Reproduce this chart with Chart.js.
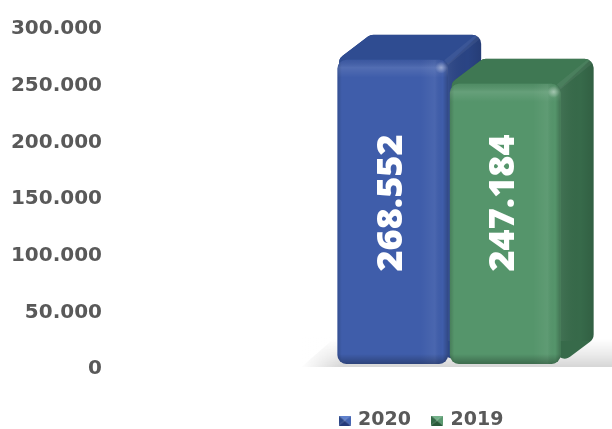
<!DOCTYPE html>
<html>
<head>
<meta charset="utf-8">
<script src="https://cdn.jsdelivr.net/npm/chart.js@4.4.1/dist/chart.umd.min.js"></script>
<style>
  html, body { margin: 0; padding: 0; background: #ffffff; }
  #wrap { width: 612px; height: 429px; }
</style>
</head>
<body>
<div id="wrap"><canvas id="chart" width="612" height="429"></canvas></div>
<script>
// ---- data ----
const categories = [''];
const seriesLabels = ['2020', '2019'];
const values2020 = [268552];
const values2019 = [247184];
const yMin = 0;
const yMax = 300000;
const yStep = 50000;

// ---- styling ----
const palette = [
  { front: '#3F5DAA', top: '#2F4C91', side: '#2A4484', icon: ['#5E80CC', '#4566B4', '#24397A', '#2C4788'] },
  { front: '#55956B', top: '#3F7853', side: '#376A4A', icon: ['#74B28A', '#5A9A70', '#2A5A3A', '#356A48'] }
];
const depth = { dx: 33, dy: -25 };
const faceRadius = 9;
const textGray = '#595959';

const fmt = v => String(v).replace(/\B(?=(\d{3})+(?!\d))/g, '.');

// small bevelled square used as legend marker
function makeIcon(c) {
  const w = 12, h = 10, cx = 6, cy = 5;
  const cv = document.createElement('canvas');
  cv.width = w; cv.height = h;
  const g = cv.getContext('2d');
  const tri = (pts, col) => {
    g.beginPath(); g.moveTo(pts[0][0], pts[0][1]);
    for (let i = 1; i < pts.length; i++) g.lineTo(pts[i][0], pts[i][1]);
    g.closePath(); g.fillStyle = col; g.fill();
  };
  tri([[0, 0], [w, 0], [cx, cy]], c[0]);
  tri([[w, 0], [w, h], [cx, cy]], c[1]);
  tri([[0, h], [w, h], [cx, cy]], c[2]);
  tri([[0, 0], [0, h], [cx, cy]], c[3]);
  return cv;
}
const icons = palette.map(p => makeIcon(p.icon));

function roundedPoly(ctx, pts, rad) {
  const n = pts.length;
  const mid = (a, b) => [(a[0] + b[0]) / 2, (a[1] + b[1]) / 2];
  const s = mid(pts[n - 1], pts[0]);
  ctx.beginPath();
  ctx.moveTo(s[0], s[1]);
  for (let i = 0; i < n; i++) {
    const p = pts[i], m = mid(p, pts[(i + 1) % n]);
    ctx.arcTo(p[0], p[1], m[0], m[1], rad);
  }
  ctx.closePath();
}

function roundRect(ctx, x, y, w, h, r) {
  ctx.beginPath();
  ctx.moveTo(x + r, y);
  ctx.arcTo(x + w, y, x + w, y + h, r);
  ctx.arcTo(x + w, y + h, x, y + h, r);
  ctx.arcTo(x, y + h, x, y, r);
  ctx.arcTo(x, y, x + w, y, r);
  ctx.closePath();
}

function barBox(el) {
  const p = el.getProps(['x', 'y', 'base', 'width'], true);
  return { l: p.x - p.width / 2, r: p.x + p.width / 2, t: Math.min(p.y, p.base), b: Math.max(p.y, p.base), cx: p.x };
}

// floor, top faces and side faces behind the bar fronts; shading and labels on top
const box3d = {
  id: 'box3d',
  afterLayout(chart) {
    const lg = chart.legend;
    const h = lg.height;
    lg.left = 232; lg.right = 612;
    lg.top = 389; lg.bottom = lg.top + h;
  },
  beforeDatasetsDraw(chart) {
    const ctx = chart.ctx;
    const metas = chart.data.datasets.map((d, i) => chart.getDatasetMeta(i));
    const first = barBox(metas[0].data[0]);

    // floor shadow
    ctx.save();
    const fb = first.b + 3, ft = first.b + depth.dy;
    ctx.beginPath();
    ctx.moveTo(first.l - 36, fb);
    ctx.lineTo(chart.width, fb);
    ctx.lineTo(chart.width, ft);
    ctx.lineTo(first.l - 4, ft);
    ctx.closePath();
    let g = ctx.createLinearGradient(0, ft, 0, fb);
    g.addColorStop(0, 'rgba(0,0,0,0)');
    g.addColorStop(0.55, 'rgba(0,0,0,0.08)');
    g.addColorStop(1, 'rgba(0,0,0,0.16)');
    ctx.fillStyle = g;
    ctx.fill();
    g = ctx.createLinearGradient(first.l - 36, 0, first.l + 4, 0);
    g.addColorStop(0, 'rgba(255,255,255,1)');
    g.addColorStop(1, 'rgba(255,255,255,0)');
    ctx.fillStyle = g;
    ctx.fillRect(first.l - 40, ft - 2, 46, fb - ft + 4);
    ctx.restore();

    metas.forEach((meta, i) => {
      const c = palette[i];
      meta.data.forEach(el => {
        const { l, r, t, b } = barBox(el);
        const dx = depth.dx, dy = depth.dy;
        const sil = [[l, t], [l + dx, t + dy], [r + dx, t + dy], [r + dx, b + dy], [r, b]];
        ctx.save();
        roundedPoly(ctx, sil, faceRadius);
        ctx.fillStyle = c.side;
        ctx.fill();
        ctx.clip();
        // side face shading
        const sg = ctx.createLinearGradient(r, 0, r + dx, 0);
        sg.addColorStop(0, 'rgba(255,255,255,0.05)');
        sg.addColorStop(0.6, 'rgba(0,0,0,0)');
        sg.addColorStop(1, 'rgba(0,0,0,0.1)');
        ctx.fillStyle = sg;
        ctx.fillRect(r - 2, t + dy - 2, dx + 4, b - t + 4);
        // top face
        ctx.beginPath();
        ctx.moveTo(l - 4, t + 3);
        ctx.lineTo(l + dx - 4, t + dy);
        ctx.lineTo(r + dx - 2, t + dy);
        ctx.lineTo(r + 1, t + 3);
        ctx.closePath();
        ctx.fillStyle = c.top;
        ctx.fill();
        // soft ridge between top and side
        ctx.strokeStyle = 'rgba(255,255,255,0.06)';
        ctx.lineWidth = 6;
        ctx.beginPath();
        ctx.moveTo(r - 2, t + 3);
        ctx.lineTo(r + dx - 3, t + dy + 2);
        ctx.stroke();
        ctx.restore();
      });
    });
  },
  afterDatasetsDraw(chart) {
    const ctx = chart.ctx;
    const area = chart.chartArea;
    chart.data.datasets.forEach((ds, i) => {
      const meta = chart.getDatasetMeta(i);
      meta.data.forEach((el, j) => {
        const { l, r, t, b, cx } = barBox(el);
        const w = r - l, h = b - t;
        ctx.save();
        roundRect(ctx, l, t, w, h, faceRadius);
        ctx.clip();
        let g = ctx.createLinearGradient(l, 0, r, 0);
        g.addColorStop(0, 'rgba(0,0,0,0.16)');
        g.addColorStop(0.04, 'rgba(0,0,0,0)');
        g.addColorStop(0.75, 'rgba(255,255,255,0)');
        g.addColorStop(0.88, 'rgba(255,255,255,0.06)');
        g.addColorStop(0.95, 'rgba(0,0,0,0)');
        g.addColorStop(1, 'rgba(0,0,0,0.22)');
        ctx.fillStyle = g;
        ctx.fillRect(l, t, w, h);
        g = ctx.createLinearGradient(0, t, 0, b);
        g.addColorStop(0, 'rgba(0,0,0,0.06)');
        g.addColorStop(8 / h, 'rgba(255,255,255,0.1)');
        g.addColorStop(18 / h, 'rgba(255,255,255,0)');
        g.addColorStop(1 - 10 / h, 'rgba(0,0,0,0)');
        g.addColorStop(1, 'rgba(0,0,0,0.28)');
        ctx.fillStyle = g;
        ctx.fillRect(l, t, w, h);
        const rg = ctx.createRadialGradient(r - 7, t + 8, 0, r - 7, t + 8, 6);
        rg.addColorStop(0, 'rgba(255,255,255,0.4)');
        rg.addColorStop(1, 'rgba(255,255,255,0)');
        ctx.fillStyle = rg;
        ctx.fillRect(r - 14, t, 14, 16);
        ctx.restore();

        // value label, rotated
        ctx.save();
        ctx.translate(cx - 2, (area.top + area.bottom) / 2 + 9);
        ctx.rotate(-Math.PI / 2);
        ctx.font = '800 36px "Open Sans"';
        ctx.fillStyle = '#ffffff';
        ctx.textAlign = 'center';
        ctx.textBaseline = 'middle';
        ctx.fillText(fmt(ds.data[j]), 0, 1);
        ctx.restore();
      });
    });
  }
};

const datasets = [values2020, values2019].map((vals, i) => ({
  label: seriesLabels[i],
  data: vals,
  backgroundColor: palette[i].front,
  borderWidth: 0,
  borderRadius: faceRadius,
  borderSkipped: false,
  categoryPercentage: 0.69,
  barPercentage: 0.985
}));

new Chart(document.getElementById('chart'), {
  type: 'bar',
  data: { labels: categories, datasets },
  options: {
    responsive: false,
    devicePixelRatio: 1,
    animation: false,
    layout: { autoPadding: false, padding: { top: 24, bottom: 14, left: 0, right: 0 } },
    plugins: {
      tooltip: { enabled: false },
      legend: {
        position: 'bottom',
        labels: {
          usePointStyle: true,
          pointStyleWidth: 8,
          padding: 22,
          color: textGray,
          font: { family: '"DejaVu Sans"', weight: 'bold', size: 19 },
          generateLabels: chart => chart.data.datasets.map((d, i) => ({
            text: d.label,
            fillStyle: palette[i].front,
            strokeStyle: palette[i].front,
            lineWidth: 0,
            pointStyle: icons[i],
            fontColor: textGray,
            hidden: false,
            datasetIndex: i
          }))
        }
      }
    },
    scales: {
      x: { display: false },
      y: {
        min: yMin,
        max: yMax,
        grid: { display: false, drawTicks: false },
        border: { display: false },
        afterFit: s => { s.width = 286; s.paddingTop = 0; s.paddingBottom = 0; },
        ticks: {
          stepSize: yStep,
          padding: 184,
          labelOffset: 5,
          color: textGray,
          font: { family: '"DejaVu Sans"', weight: 'bold', size: 20 },
          callback: v => fmt(v)
        }
      }
    }
  },
  plugins: [box3d]
});
</script>
</body>
</html>
